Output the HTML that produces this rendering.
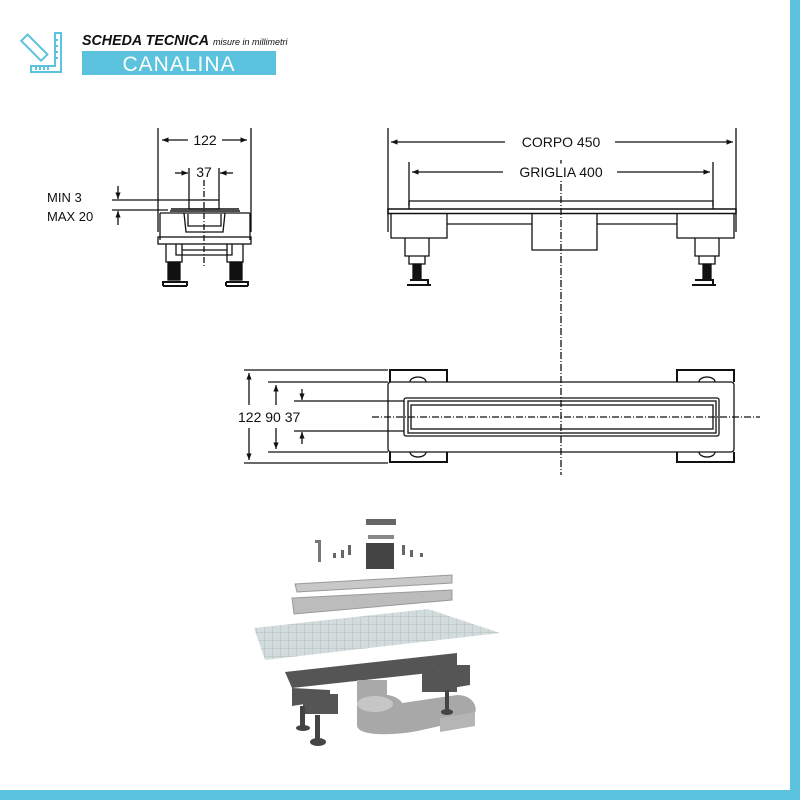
<!DOCTYPE html>
<html><head><meta charset="utf-8"><style>
html,body{margin:0;padding:0;background:#fff}
svg{display:block}
text{font-family:"Liberation Sans",Arial,sans-serif}
</style></head><body>
<svg width="800" height="800" viewBox="0 0 800 800" xmlns="http://www.w3.org/2000/svg">
<defs>
<marker id="a" viewBox="0 0 10 10" refX="10" refY="5" markerWidth="7" markerHeight="5" orient="auto-start-reverse"><path d="M0,1 L10,5 L0,9 z" fill="#111"/></marker>
<pattern id="tile" width="8" height="8" patternUnits="userSpaceOnUse"><rect width="8" height="8" fill="#d3dcdc"/><path d="M0 0H8M0 0V8" stroke="#b3bebe" stroke-width="1"/></pattern>
</defs>
<rect width="800" height="800" fill="#fff"/>
<rect x="790" y="0" width="10" height="800" fill="#5bc3dd"/>
<rect x="0" y="790" width="800" height="10" fill="#5bc3dd"/>

<g stroke="#5bc3dd" fill="none" stroke-width="2">
<rect x="30" y="34" width="9" height="28" transform="rotate(-45 34 48)"/>
<path d="M61 33V72H31V66H55V33z"/>
<path d="M36 70v-3M40 70v-3M44 70v-3M48 70v-3M58 40h-3M58 46h-3M58 52h-3M58 58h-3"/>
</g>
<text x="82" y="45" font-size="15" font-style="italic" font-weight="bold" fill="#111" textLength="127" lengthAdjust="spacingAndGlyphs">SCHEDA TECNICA</text>
<text x="213" y="45" font-size="9" font-style="italic" fill="#111">misure in millimetri</text>
<rect x="82" y="51" width="194" height="24" fill="#5bc3dd"/>
<text x="179" y="71" font-size="21" fill="#fff" text-anchor="middle" letter-spacing="1">CANALINA</text>

<g stroke="#111" fill="none" stroke-width="1.3">
<path d="M158 128V232M251 128V232"/>
<line x1="188" y1="140" x2="162" y2="140" marker-end="url(#a)"/>
<line x1="222" y1="140" x2="247" y2="140" marker-end="url(#a)"/>
<path d="M189 168V200M219 168V200"/>
<line x1="175" y1="173" x2="188" y2="173" marker-end="url(#a)"/>
<line x1="233" y1="173" x2="220" y2="173" marker-end="url(#a)"/>
<path d="M112 200H190M112 210H168"/>
<line x1="118" y1="186" x2="118" y2="199" marker-end="url(#a)"/>
<line x1="118" y1="225" x2="118" y2="211" marker-end="url(#a)"/>
<rect x="189" y="200" width="30" height="9"/>
<path d="M171 209H239M170 211H240" stroke-width="1.5"/>
<path d="M160 213H250M160 213V240M250 213V240"/>
<path d="M184 213L186 232H223L225 213M188 214V226H221V214"/>
<rect x="158" y="237" width="93" height="7"/>
<path d="M176 244V255H232V244M166 244V262H182V244M227 244V262H243V244M182 250H227"/>
<rect x="168" y="262" width="12" height="18" fill="#111"/>
<rect x="230" y="262" width="12" height="18" fill="#111"/>
<path d="M163 286H187M163 286V282H187V286M226 286H248M226 282H248V286M226 282V286" stroke-width="2"/>
<line x1="204" y1="180" x2="204" y2="268" stroke-dasharray="6,2,1,2"/>

<path d="M388 128V232M736 128V232M409 162V206M713 162V206"/>
<line x1="505" y1="142" x2="391" y2="142" marker-end="url(#a)"/>
<line x1="615" y1="142" x2="733" y2="142" marker-end="url(#a)"/>
<line x1="503" y1="172" x2="412" y2="172" marker-end="url(#a)"/>
<line x1="617" y1="172" x2="710" y2="172" marker-end="url(#a)"/>
<path d="M409 201H713V209M409 201V209"/>
<rect x="388" y="209" width="348" height="4.5" stroke-width="1.5"/>
<path d="M391 214V238H447V214M447 224H532M532 214V250H597V214M597 224H677M677 214V238H734V214"/>
<path d="M405 238V256H429V238M409 256V264H425V256M695 238V256H719V238M699 256V264H715V256"/>
<rect x="413" y="264" width="8" height="16" fill="#111"/>
<rect x="703" y="264" width="8" height="16" fill="#111"/>
<path d="M407 285H431M410 280H428V285M692 285H716M695 280H713V285" stroke-width="2"/>
<line x1="561" y1="160" x2="561" y2="475" stroke-dasharray="7,2,1,2"/>

<rect x="388" y="382" width="346" height="70" rx="3"/>
<path d="M390 382V370H447V382M390 452V462H447V452M677 382V370H734V382M677 452V462H734V452" stroke-width="2"/>
<path d="M410 382a8 5 0 0 1 16 0M410 452a8 5 0 0 0 16 0M699 382a8 5 0 0 1 16 0M699 452a8 5 0 0 0 16 0"/>
<rect x="404" y="398" width="315" height="38" rx="2"/>
<rect x="408" y="401" width="308" height="32"/>
<rect x="411" y="405" width="302" height="24"/>
<path d="M244 370H388M244 463H388M268 382H388M268 452H388M294 401H404M294 431H404"/>
<line x1="249" y1="405" x2="249" y2="373" marker-end="url(#a)"/>
<line x1="249" y1="428" x2="249" y2="460" marker-end="url(#a)"/>
<line x1="276" y1="405" x2="276" y2="385" marker-end="url(#a)"/>
<line x1="276" y1="428" x2="276" y2="449" marker-end="url(#a)"/>
<line x1="302" y1="389" x2="302" y2="400" marker-end="url(#a)"/>
<line x1="302" y1="444" x2="302" y2="432" marker-end="url(#a)"/>
<line x1="372" y1="417" x2="760" y2="417" stroke-dasharray="7,2,1,2"/>
</g>
<g font-size="13" fill="#111">
<text x="205" y="145" text-anchor="middle" font-size="14" stroke="#fff" stroke-width="6" paint-order="stroke">122</text>
<text x="204" y="177" text-anchor="middle" font-size="14">37</text>
<text x="47" y="202">MIN 3</text>
<text x="47" y="221">MAX 20</text>
<text x="561" y="147" text-anchor="middle" font-size="14" stroke="#fff" stroke-width="8" paint-order="stroke">CORPO 450</text>
<text x="561" y="177" text-anchor="middle" font-size="14" stroke="#fff" stroke-width="8" paint-order="stroke">GRIGLIA 400</text>
<text x="238" y="422" font-size="14" stroke="#fff" stroke-width="5" paint-order="stroke">122 90 37</text>
</g>

<g>
<path d="M315 540h6v22h-3v-19h-3z" fill="#777"/>
<rect x="366" y="519" width="30" height="6" fill="#666"/>
<rect x="368" y="535" width="26" height="4" fill="#888"/>
<rect x="366" y="543" width="28" height="26" fill="#444"/>
<g fill="#666"><rect x="333" y="553" width="3" height="5"/><rect x="341" y="550" width="3" height="8"/><rect x="348" y="545" width="3" height="10"/><rect x="402" y="545" width="3" height="10"/><rect x="410" y="550" width="3" height="7"/><rect x="420" y="553" width="3" height="4"/></g>
<path d="M295 584L452 575V583L297 592z" fill="#c8c8c8" stroke="#999"/>
<path d="M292 598L452 590V600L294 614z" fill="#bcbcbc" stroke="#999"/>
<path d="M254 628L428 609L500 633L265 660z" fill="url(#tile)"/>
<path d="M285 672L457 653V670L292 688z" fill="#555"/>
<path d="M292 688V706L330 700V690M440 665V690L470 685V665" fill="#555"/>
<rect x="303" y="694" width="35" height="20" fill="#555"/>
<rect x="422" y="672" width="35" height="20" fill="#555"/>
<path d="M357 680h30v25h-30z" fill="#a9a9a9"/>
<path d="M357 703c0 -12 40 -12 45 0l55 -8c20 0 25 20 10 25l-45 10c-20 5 -65 8 -65 -5z" fill="#a8a8a8"/>
<ellipse cx="375" cy="704" rx="18" ry="8" fill="#c6c6c6"/>
<path d="M440 718l35 -6v14l-35 6z" fill="#b5b5b5"/>
<rect x="315" y="715" width="5" height="25" fill="#444"/><ellipse cx="318" cy="742" rx="8" ry="4" fill="#444"/>
<rect x="300" y="706" width="5" height="20" fill="#444"/><ellipse cx="303" cy="728" rx="7" ry="3" fill="#444"/>
<rect x="445" y="690" width="4" height="20" fill="#444"/><ellipse cx="447" cy="712" rx="6" ry="3" fill="#444"/>
</g>
</svg>
</body></html>
